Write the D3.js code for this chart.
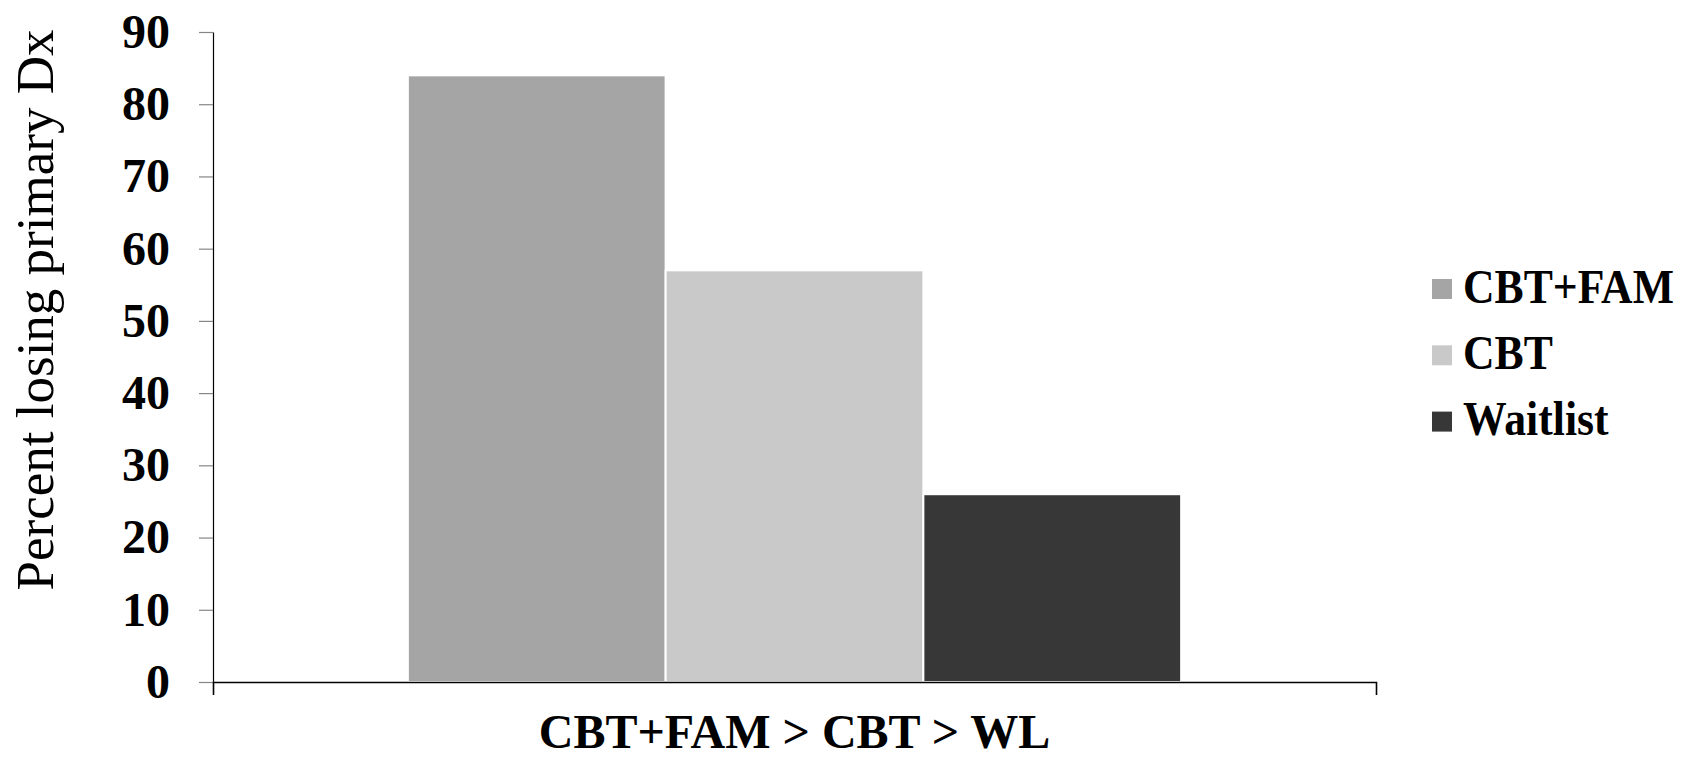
<!DOCTYPE html>
<html>
<head>
<meta charset="utf-8">
<script src="https://cdnjs.cloudflare.com/ajax/libs/d3/7.8.5/d3.min.js"></script>
<style>
    body { margin: 0; background: #fff; }
    .container { width: 1692px; height: 759px; }
</style>
</head>
<body>
<div class="container"></div>
<script>
var categories = ['CBT+FAM > CBT > WL'];
var seriesNames = ['CBT+FAM', 'CBT', 'Waitlist'];
var seriesValues = [84, 57, 26];
var seriesColors = ['#a5a5a5', '#c9c9c9', '#373737'];
var yTicks = [0, 10, 20, 30, 40, 50, 60, 70, 80, 90];

var drawChart = function () {
    const WIDTH = 1692;
    const HEIGHT = 759;
    var margin = { top: 32, right: 316, bottom: 77, left: 213 };
    var plotWidth = WIDTH - margin.left - margin.right;
    var plotHeight = HEIGHT - margin.top - margin.bottom;
    var font = '"Liberation Serif", "Times New Roman", serif';

    var svg = d3.select('.container')
        .append('svg')
        .attr('width', WIDTH)
        .attr('height', HEIGHT);

    var g = svg.append('g')
        .attr('transform', 'translate(' + margin.left + ',' + margin.top + ')');

    var y = d3.scaleLinear().domain([0, 90]).range([plotHeight, 0]);

    var x0 = d3.scaleBand()
        .domain(categories)
        .range([0, plotWidth])
        .paddingOuter(0.252);

    var x1 = d3.scaleBand()
        .domain(seriesNames)
        .range([0, x0.bandwidth()]);

    var color = d3.scaleOrdinal().domain(seriesNames).range(seriesColors);

    // bars
    g.append('g')
        .attr('transform', 'translate(' + x0(categories[0]) + ',0)')
        .selectAll('rect')
        .data(seriesNames.map(function (s, i) { return { name: s, value: seriesValues[i] }; }))
        .enter()
        .append('rect')
        .attr('x', function (d) { return x1(d.name); })
        .attr('y', function (d) { return y(d.value); })
        .attr('width', x1.bandwidth())
        .attr('height', function (d) { return plotHeight - y(d.value); })
        .style('fill', function (d) { return color(d.name); })
        .style('stroke', '#ffffff')
        .style('stroke-width', '2');

    // y axis
    var yAxis = g.append('g')
        .call(d3.axisLeft(y).tickValues(yTicks).tickSize(14).tickSizeOuter(0).tickPadding(29));
    yAxis.select('.domain').style('stroke', '#000').style('stroke-width', '1.2');
    yAxis.selectAll('.tick line').style('stroke', '#868686').style('stroke-width', '1.2');
    yAxis.selectAll('.tick text')
        .style('font-family', font)
        .style('font-weight', 'bold')
        .style('font-size', '48px')
        .style('fill', '#000');

    // x axis
    var xEdge = d3.scaleLinear().domain([0, 1]).range([0, plotWidth]);
    var xAxis = g.append('g')
        .attr('transform', 'translate(0,' + plotHeight + ')')
        .call(d3.axisBottom(xEdge).tickValues([]).tickSizeOuter(13));
    xAxis.select('.domain').style('stroke', '#000').style('stroke-width', '1.6');

    g.append('text')
        .attr('x', x0(categories[0]) + x0.bandwidth() / 2)
        .attr('y', plotHeight + 66)
        .attr('text-anchor', 'middle')
        .style('font-family', font)
        .style('font-weight', 'bold')
        .style('font-size', '48px')
        .text(categories[0]);

    // y axis title
    svg.append('text')
        .attr('transform', 'translate(53,310) rotate(-90)')
        .attr('text-anchor', 'middle')
        .style('font-family', font)
        .style('font-size', '53px')
        .text('Percent losing primary Dx');

    // legend
    var legend = svg.append('g')
        .attr('transform', 'translate(1432,289)')
        .selectAll('g')
        .data(seriesNames)
        .enter()
        .append('g')
        .attr('transform', function (d, i) { return 'translate(0,' + (i * 66.3) + ')'; });

    legend.append('rect')
        .attr('x', 0)
        .attr('y', -10)
        .attr('width', 20)
        .attr('height', 20)
        .style('fill', function (d) { return color(d); });

    legend.append('text')
        .attr('transform', 'translate(31,13.5) scale(0.91,1)')
        .style('font-family', font)
        .style('font-weight', 'bold')
        .style('font-size', '48px')
        .text(function (d) { return d; });
};
window.onload = drawChart;
</script>
</body>
</html>
